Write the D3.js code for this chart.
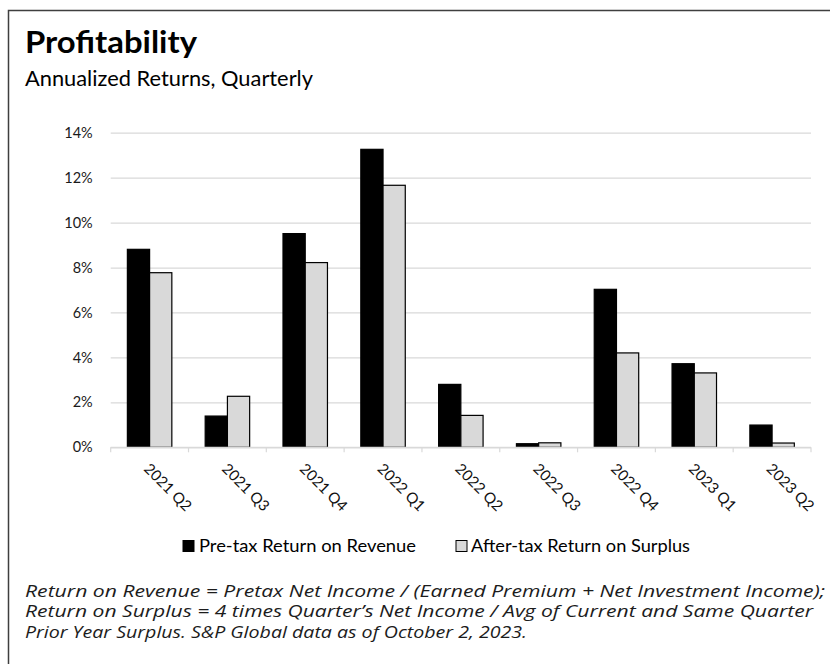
<!DOCTYPE html>
<html>
<head>
<meta charset="utf-8">
<script src="https://cdn.jsdelivr.net/npm/d3@7"></script>
<style>
  html, body { margin: 0; padding: 0; background: #fff; }
  svg { display: block; }
</style>
</head>
<body>
<svg id="chart" width="830" height="664"></svg>
<script>
// Quarterly profitability, annualized returns
const categories = ["2021 Q2", "2021 Q3", "2021 Q4", "2022 Q1", "2022 Q2", "2022 Q3", "2022 Q4", "2023 Q1", "2023 Q2"];
const seriesNames = ["Pre-tax Return on Revenue", "After-tax Return on Surplus"];
const preTaxReturnOnRevenue = [0.0881, 0.0139, 0.0951, 0.1326, 0.0280, 0.0016, 0.0703, 0.0372, 0.0099];
const afterTaxReturnOnSurplus = [0.0777, 0.0227, 0.0822, 0.1166, 0.0142, 0.0020, 0.0420, 0.0331, 0.0019];
const yTicks = [0, 0.02, 0.04, 0.06, 0.08, 0.10, 0.12, 0.14];
const footnoteLines = [
  "Return on Revenue = Pretax Net Income / (Earned Premium + Net Investment Income);",
  "Return on Surplus = 4 times Quarter\u2019s Net Income / Avg of Current and Same Quarter",
  "Prior Year Surplus. S&P Global data as of October 2, 2023."
];

const seriesValues = [preTaxReturnOnRevenue, afterTaxReturnOnSurplus];
const seriesFill = ["#000000", "#d9d9d9"];

const svg = d3.select("#chart");
const bodyFont = "Lato, 'Open Sans', sans-serif";
const noteFont = "'Open Sans', Lato, sans-serif";

// Frame (top and left edges)
svg.append("path")
  .attr("d", "M8.5,664 V10.5 H830")
  .attr("fill", "none")
  .attr("stroke", "#3f3f3f")
  .attr("stroke-width", 1.5);

// Title and subtitle
svg.append("text")
  .attr("x", 25).attr("y", 53)
  .attr("font-family", bodyFont)
  .attr("font-weight", 700)
  .attr("font-size", 31)
  .attr("fill", "#000")
  .attr("textLength", 172).attr("lengthAdjust", "spacingAndGlyphs")
  .text("Profitability");

svg.append("text")
  .attr("x", 25).attr("y", 86)
  .attr("font-family", bodyFont)
  .attr("font-size", 20.5)
  .attr("fill", "#000")
  .attr("textLength", 288).attr("lengthAdjust", "spacingAndGlyphs")
  .text("Annualized Returns, Quarterly");

// Scales
const plotLeft = 110.7, plotRight = 811, plotTop = 132.7, plotBottom = 447.3;
const x = d3.scaleBand().domain(categories).range([plotLeft, plotRight]).padding(0);
const xInner = d3.scaleBand().domain(d3.range(seriesNames.length))
  .range([0, x.bandwidth()]).paddingInner(0).paddingOuter(0.75);
const y = d3.scaleLinear().domain([0, 0.14]).range([plotBottom, plotTop]);

// Gridlines and y-axis labels
const yAxis = d3.axisLeft(y)
  .tickValues(yTicks)
  .tickFormat(d3.format(".0%"))
  .tickSize(-(plotRight - plotLeft))
  .tickPadding(18);

const yG = svg.append("g")
  .attr("transform", `translate(${plotLeft},0)`)
  .call(yAxis);
yG.select(".domain").remove();
yG.selectAll(".tick line").attr("stroke", "#d9d9d9").attr("stroke-width", 1.2);
yG.selectAll(".tick text")
  .attr("font-family", bodyFont)
  .attr("font-size", 14.5)
  .attr("fill", "#1a1a1a");

// Bars
const groups = svg.append("g").selectAll("g")
  .data(categories)
  .join("g")
  .attr("transform", d => `translate(${x(d)},0)`);

groups.selectAll("rect")
  .data((d, i) => seriesValues.map((vals, s) => ({ s, v: vals[i] })))
  .join("rect")
  .attr("x", d => xInner(d.s))
  .attr("width", xInner.bandwidth())
  .attr("y", d => y(d.v))
  .attr("height", d => y(0) - y(d.v))
  .attr("fill", d => seriesFill[d.s])
  .attr("stroke", "#000")
  .attr("stroke-width", 1.2);

// Category axis: baseline, boundary ticks, rotated labels
const xAxisG = svg.append("g");
xAxisG.append("line")
  .attr("x1", plotLeft).attr("x2", plotRight)
  .attr("y1", y(0)).attr("y2", y(0))
  .attr("stroke", "#d9d9d9").attr("stroke-width", 1.2);

const boundaries = categories.map(c => x(c)).concat([x(categories[categories.length - 1]) + x.bandwidth()]);
xAxisG.selectAll("line.tick")
  .data(boundaries)
  .join("line")
  .attr("class", "tick")
  .attr("x1", d => d).attr("x2", d => d)
  .attr("y1", y(0)).attr("y2", y(0) + 5)
  .attr("stroke", "#d9d9d9").attr("stroke-width", 1.2);

xAxisG.selectAll("text")
  .data(categories)
  .join("text")
  .attr("transform", d => `translate(${x(d) + x.bandwidth() / 2 - 6.5},${y(0) + 22.5}) rotate(45)`)
  .attr("font-family", bodyFont)
  .attr("font-size", 15)
  .attr("fill", "#111")
  .attr("textLength", 60).attr("lengthAdjust", "spacingAndGlyphs")
  .text(d => d);

// Legend
const legendItems = [
  { name: seriesNames[0], fill: seriesFill[0], x: 183, textX: 199, len: 217 },
  { name: seriesNames[1], fill: seriesFill[1], x: 456, textX: 471, len: 219 }
];
const legend = svg.append("g");
legend.selectAll("rect")
  .data(legendItems)
  .join("rect")
  .attr("x", d => d.x).attr("y", 540.5)
  .attr("width", 11).attr("height", 11)
  .attr("fill", d => d.fill)
  .attr("stroke", "#000").attr("stroke-width", 1);
legend.selectAll("text")
  .data(legendItems)
  .join("text")
  .attr("x", d => d.textX).attr("y", 552)
  .attr("font-family", bodyFont)
  .attr("font-size", 17)
  .attr("fill", "#000")
  .attr("textLength", d => d.len).attr("lengthAdjust", "spacingAndGlyphs")
  .text(d => d.name);

// Footnote
const footLengths = [800, 788, 502];
svg.append("g").selectAll("text")
  .data(footnoteLines)
  .join("text")
  .attr("x", 25)
  .attr("y", (d, i) => 596.5 + i * 20.8)
  .attr("font-family", noteFont)
  .attr("font-style", "italic")
  .attr("font-size", 15.5)
  .attr("fill", "#1c1c1c")
  .attr("textLength", (d, i) => footLengths[i]).attr("lengthAdjust", "spacingAndGlyphs")
  .text(d => d);
</script>
</body>
</html>
